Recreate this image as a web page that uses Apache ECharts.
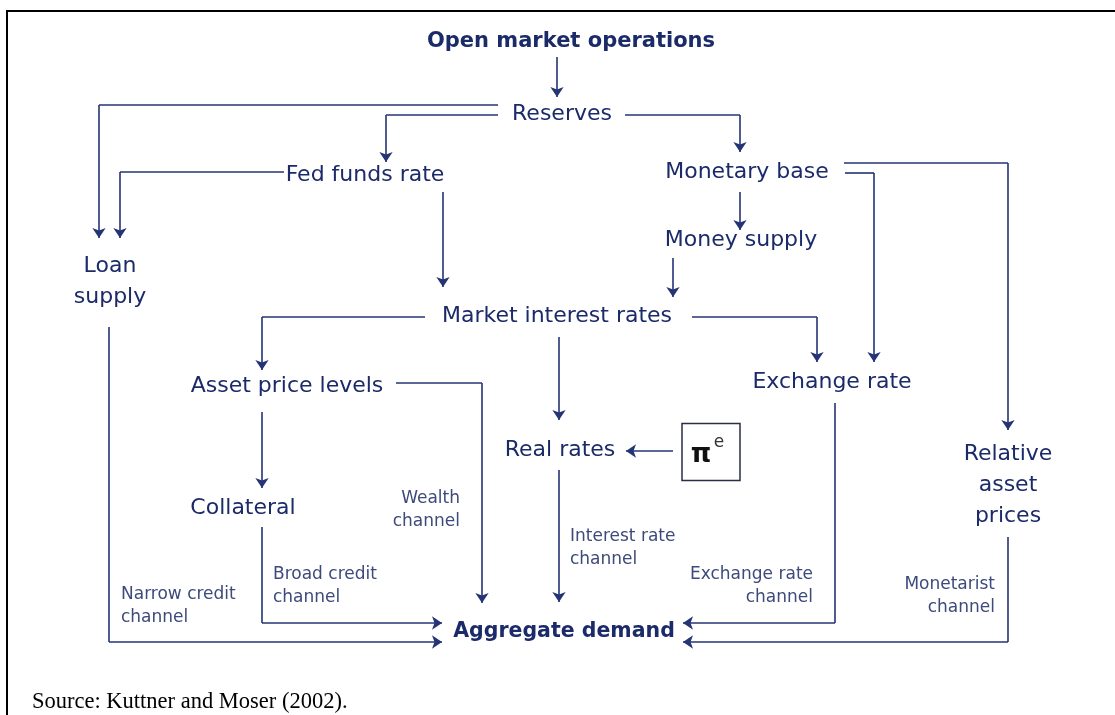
<!DOCTYPE html>
<html>
<head>
<meta charset="utf-8">
<script src="https://cdn.jsdelivr.net/npm/echarts@6.0.0/dist/echarts.min.js"></script>
<style>
html, body { margin: 0; padding: 0; background: #fff; }
#chart { width: 1115px; height: 715px; }
</style>
</head>
<body>
<div id="chart"></div>
<script>
// diagram nodes: [text, x, y] in picture pixels
const startNode = [['Open market operations', 571, 42]]
const demandNode = [['Aggregate demand', 564, 632]]
const mainNodes = [
  ['Reserves', 562, 114],
  ['Fed funds rate', 365, 175],
  ['Monetary base', 747, 172],
  ['Money supply', 741, 240],
  ['Loan\nsupply', 110, 282],
  ['Market interest rates', 557, 316],
  ['Asset price levels', 287, 386],
  ['Exchange rate', 832, 382],
  ['Real rates', 560, 450],
  ['Collateral', 243, 508],
  ['Relative\nasset\nprices', 1008, 485]
]
// channel captions, anchored left or right
const channelLeft = [
  ['Interest rate\nchannel', 570, 548],
  ['Broad credit\nchannel', 273, 586],
  ['Narrow credit\nchannel', 121, 606]
]
const channelRight = [
  ['Wealth\nchannel', 460, 510],
  ['Exchange rate\nchannel', 813, 586],
  ['Monetarist\nchannel', 995, 596]
]
// connectors, last point is the arrow tip
const arrowPaths = [
  [[557, 57], [557, 97]],
  [[498, 105], [99, 105], [99, 238]],
  [[498, 115], [386, 115], [386, 162]],
  [[625, 115], [740, 115], [740, 152]],
  [[284, 172], [120, 172], [120, 238]],
  [[443, 192], [443, 287]],
  [[740, 192], [740, 230]],
  [[844, 163], [1008, 163], [1008, 430]],
  [[845, 173], [874, 173], [874, 362]],
  [[673, 258], [673, 297]],
  [[425, 317], [262, 317], [262, 370]],
  [[692, 317], [817, 317], [817, 362]],
  [[559, 337], [559, 420]],
  [[262, 412], [262, 488]],
  [[396, 383], [482, 383], [482, 603]],
  [[673, 451], [626, 451]],
  [[559, 470], [559, 602]],
  [[262, 527], [262, 623], [442, 623]],
  [[109, 327], [109, 642], [442, 642]],
  [[835, 403], [835, 623], [683, 623]],
  [[1008, 537], [1008, 642], [683, 642]]
]
const framePath = [[7, 715], [7, 11], [1115, 11]]
const inflationBox = [[711, 452]]
const inflationPi = [['π', 701, 455]]
const inflationE = [['e', 719, 443]]
const sourceNote = [['Source: Kuttner and Moser (2002).', 32, 702]]

const NAVY = '#1b2a69'
const LINE = '#253474'
const SOFT = '#3d4a7a'
const FONT = '"DejaVu Sans", Verdana, sans-serif'

// split every connector into plain segments and a final arrowed segment
const plainSegments = []
const tipSegments = []
arrowPaths.forEach(path => {
  for (let i = 0; i < path.length - 1; i++) {
    const seg = { coords: [path[i], path[i + 1]] }
    if (i === path.length - 2) tipSegments.push(seg)
    else plainSegments.push(seg)
  }
})

const textSeries = (rows, label, z) => ({
  type: 'scatter',
  symbolSize: 1,
  z: z || 5,
  silent: true,
  itemStyle: { color: 'rgba(0,0,0,0)', opacity: 1 },
  label: Object.assign({
    show: true,
    position: 'inside',
    verticalAlign: 'middle',
    fontFamily: FONT,
    formatter: (p) => p.data[0]
  }, label),
  data: rows.map(r => [r[0], r[1], r[2]]),
  encode: { x: 1, y: 2 }
})

const chart = echarts.init(document.getElementById('chart'))

chart.setOption({
  animation: false,
  grid: { left: 0, right: 0, top: 0, bottom: 0 },
  xAxis: { type: 'value', min: 0, max: 1115, show: false },
  yAxis: { type: 'value', min: 0, max: 715, inverse: true, show: false },
  series: [
    {
      type: 'lines',
      coordinateSystem: 'cartesian2d',
      polyline: true,
      silent: true,
      lineStyle: { color: '#000', width: 2, opacity: 1 },
      data: [{ coords: framePath }]
    },
    {
      type: 'lines',
      coordinateSystem: 'cartesian2d',
      silent: true,
      symbol: ['none', 'none'],
      lineStyle: { color: LINE, width: 1.6, opacity: 1 },
      data: plainSegments
    },
    {
      type: 'lines',
      coordinateSystem: 'cartesian2d',
      silent: true,
      symbol: ['none', 'arrow'],
      symbolSize: 10,
      lineStyle: { color: LINE, width: 1.6, opacity: 1 },
      data: tipSegments
    },
    {
      type: 'scatter',
      symbol: 'rect',
      symbolSize: [58, 57],
      z: 3,
      silent: true,
      itemStyle: { color: '#fff', borderColor: '#2a2f45', borderWidth: 1.5, opacity: 1 },
      data: inflationBox
    },
    textSeries(startNode, { color: NAVY, fontSize: 21, fontWeight: 'bold', align: 'center' }),
    textSeries(demandNode, { color: NAVY, fontSize: 20.5, fontWeight: 'bold', align: 'center' }),
    textSeries(mainNodes, { color: NAVY, fontSize: 22, lineHeight: 31, align: 'center' }),
    textSeries(channelLeft, { color: SOFT, fontSize: 17, lineHeight: 23, align: 'left' }),
    textSeries(channelRight, { color: SOFT, fontSize: 17, lineHeight: 23, align: 'right' }),
    textSeries(inflationPi, { color: '#111', fontSize: 26, fontWeight: 'bold', align: 'center' }, 6),
    textSeries(inflationE, { color: '#333', fontSize: 17, align: 'center' }, 6),
    textSeries(sourceNote, { color: '#000', fontSize: 22.5, fontFamily: '"Liberation Serif", "Times New Roman", serif', align: 'left' })
  ]
})

window.addEventListener('resize', () => chart.resize())
</script>
</body>
</html>
